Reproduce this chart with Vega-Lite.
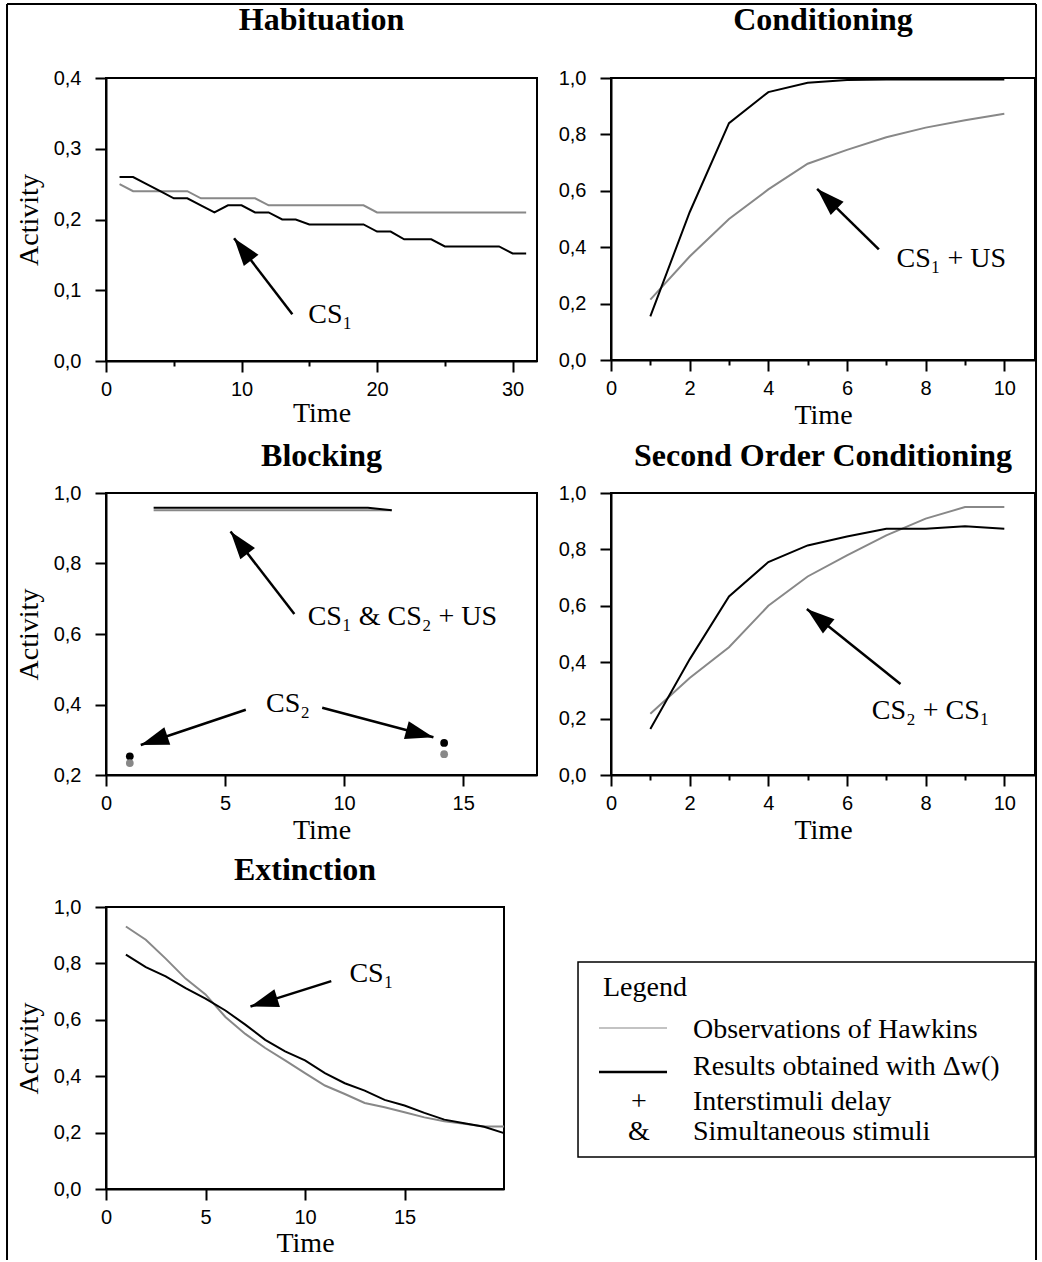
{
  "$schema": "https://vega.github.io/schema/vega-lite/v6.json",
  "padding": {"left": 6, "top": 3, "right": 0, "bottom": 0},
  "background": "white",
  "columns": 2,
  "bounds": "flush",
  "align": "each",
  "spacing": {"row": 132, "column": 74},
  "config": {
    "view": {"stroke": "black", "strokeWidth": 2},
    "axis": {"domainColor": "black", "domainWidth": 2, "tickColor": "black", "tickWidth": 2, "labelFont": "Liberation Sans", "labelFontSize": 20, "labelColor": "black", "titleFont": "Liberation Serif", "titleFontSize": 28, "titleFontWeight": "normal", "titleColor": "black", "grid": false, "labelFlush": false, "labelOverlap": false, "labelBound": false},
    "title": {"font": "Liberation Serif", "fontSize": 32, "fontWeight": "bold", "color": "black", "anchor": "middle", "frame": "group", "baseline": "alphabetic", "offset": 10},
    "text": {"font": "Liberation Serif", "fontSize": 28, "color": "black"}
  },
  "datasets": {
    "one": [{}],
    "series": [
      {"panel":"Habituation","source":"Hawkins","time":1,"activity":0.25},
      {"panel":"Habituation","source":"Hawkins","time":2,"activity":0.24},
      {"panel":"Habituation","source":"Hawkins","time":3,"activity":0.24},
      {"panel":"Habituation","source":"Hawkins","time":4,"activity":0.24},
      {"panel":"Habituation","source":"Hawkins","time":5,"activity":0.24},
      {"panel":"Habituation","source":"Hawkins","time":6,"activity":0.24},
      {"panel":"Habituation","source":"Hawkins","time":7,"activity":0.23},
      {"panel":"Habituation","source":"Hawkins","time":8,"activity":0.23},
      {"panel":"Habituation","source":"Hawkins","time":9,"activity":0.23},
      {"panel":"Habituation","source":"Hawkins","time":10,"activity":0.23},
      {"panel":"Habituation","source":"Hawkins","time":11,"activity":0.23},
      {"panel":"Habituation","source":"Hawkins","time":12,"activity":0.22},
      {"panel":"Habituation","source":"Hawkins","time":13,"activity":0.22},
      {"panel":"Habituation","source":"Hawkins","time":14,"activity":0.22},
      {"panel":"Habituation","source":"Hawkins","time":15,"activity":0.22},
      {"panel":"Habituation","source":"Hawkins","time":16,"activity":0.22},
      {"panel":"Habituation","source":"Hawkins","time":17,"activity":0.22},
      {"panel":"Habituation","source":"Hawkins","time":18,"activity":0.22},
      {"panel":"Habituation","source":"Hawkins","time":19,"activity":0.22},
      {"panel":"Habituation","source":"Hawkins","time":20,"activity":0.21},
      {"panel":"Habituation","source":"Hawkins","time":21,"activity":0.21},
      {"panel":"Habituation","source":"Hawkins","time":22,"activity":0.21},
      {"panel":"Habituation","source":"Hawkins","time":23,"activity":0.21},
      {"panel":"Habituation","source":"Hawkins","time":24,"activity":0.21},
      {"panel":"Habituation","source":"Hawkins","time":25,"activity":0.21},
      {"panel":"Habituation","source":"Hawkins","time":26,"activity":0.21},
      {"panel":"Habituation","source":"Hawkins","time":27,"activity":0.21},
      {"panel":"Habituation","source":"Hawkins","time":28,"activity":0.21},
      {"panel":"Habituation","source":"Hawkins","time":29,"activity":0.21},
      {"panel":"Habituation","source":"Hawkins","time":30,"activity":0.21},
      {"panel":"Habituation","source":"Hawkins","time":31,"activity":0.21},
      {"panel":"Habituation","source":"Model","time":1,"activity":0.26},
      {"panel":"Habituation","source":"Model","time":2,"activity":0.26},
      {"panel":"Habituation","source":"Model","time":3,"activity":0.25},
      {"panel":"Habituation","source":"Model","time":4,"activity":0.24},
      {"panel":"Habituation","source":"Model","time":5,"activity":0.23},
      {"panel":"Habituation","source":"Model","time":6,"activity":0.23},
      {"panel":"Habituation","source":"Model","time":7,"activity":0.22},
      {"panel":"Habituation","source":"Model","time":8,"activity":0.21},
      {"panel":"Habituation","source":"Model","time":9,"activity":0.22},
      {"panel":"Habituation","source":"Model","time":10,"activity":0.22},
      {"panel":"Habituation","source":"Model","time":11,"activity":0.21},
      {"panel":"Habituation","source":"Model","time":12,"activity":0.21},
      {"panel":"Habituation","source":"Model","time":13,"activity":0.2},
      {"panel":"Habituation","source":"Model","time":14,"activity":0.2},
      {"panel":"Habituation","source":"Model","time":15,"activity":0.193},
      {"panel":"Habituation","source":"Model","time":16,"activity":0.193},
      {"panel":"Habituation","source":"Model","time":17,"activity":0.193},
      {"panel":"Habituation","source":"Model","time":18,"activity":0.193},
      {"panel":"Habituation","source":"Model","time":19,"activity":0.193},
      {"panel":"Habituation","source":"Model","time":20,"activity":0.183},
      {"panel":"Habituation","source":"Model","time":21,"activity":0.183},
      {"panel":"Habituation","source":"Model","time":22,"activity":0.172},
      {"panel":"Habituation","source":"Model","time":23,"activity":0.172},
      {"panel":"Habituation","source":"Model","time":24,"activity":0.172},
      {"panel":"Habituation","source":"Model","time":25,"activity":0.162},
      {"panel":"Habituation","source":"Model","time":26,"activity":0.162},
      {"panel":"Habituation","source":"Model","time":27,"activity":0.162},
      {"panel":"Habituation","source":"Model","time":28,"activity":0.162},
      {"panel":"Habituation","source":"Model","time":29,"activity":0.162},
      {"panel":"Habituation","source":"Model","time":30,"activity":0.152},
      {"panel":"Habituation","source":"Model","time":31,"activity":0.152},
      {"panel":"Conditioning","source":"Hawkins","time":1,"activity":0.214},
      {"panel":"Conditioning","source":"Hawkins","time":2,"activity":0.367},
      {"panel":"Conditioning","source":"Hawkins","time":3,"activity":0.5},
      {"panel":"Conditioning","source":"Hawkins","time":4,"activity":0.605},
      {"panel":"Conditioning","source":"Hawkins","time":5,"activity":0.696},
      {"panel":"Conditioning","source":"Hawkins","time":6,"activity":0.745},
      {"panel":"Conditioning","source":"Hawkins","time":7,"activity":0.79},
      {"panel":"Conditioning","source":"Hawkins","time":8,"activity":0.824},
      {"panel":"Conditioning","source":"Hawkins","time":9,"activity":0.85},
      {"panel":"Conditioning","source":"Hawkins","time":10,"activity":0.873},
      {"panel":"Conditioning","source":"Model","time":1,"activity":0.155},
      {"panel":"Conditioning","source":"Model","time":2,"activity":0.524},
      {"panel":"Conditioning","source":"Model","time":3,"activity":0.84},
      {"panel":"Conditioning","source":"Model","time":4,"activity":0.95},
      {"panel":"Conditioning","source":"Model","time":5,"activity":0.983},
      {"panel":"Conditioning","source":"Model","time":6,"activity":0.993},
      {"panel":"Conditioning","source":"Model","time":7,"activity":0.995},
      {"panel":"Conditioning","source":"Model","time":8,"activity":0.995},
      {"panel":"Conditioning","source":"Model","time":9,"activity":0.995},
      {"panel":"Conditioning","source":"Model","time":10,"activity":0.995},
      {"panel":"Blocking","source":"Hawkins","time":2,"activity":0.951},
      {"panel":"Blocking","source":"Hawkins","time":3,"activity":0.951},
      {"panel":"Blocking","source":"Hawkins","time":4,"activity":0.951},
      {"panel":"Blocking","source":"Hawkins","time":5,"activity":0.951},
      {"panel":"Blocking","source":"Hawkins","time":6,"activity":0.951},
      {"panel":"Blocking","source":"Hawkins","time":7,"activity":0.951},
      {"panel":"Blocking","source":"Hawkins","time":8,"activity":0.951},
      {"panel":"Blocking","source":"Hawkins","time":9,"activity":0.951},
      {"panel":"Blocking","source":"Hawkins","time":10,"activity":0.951},
      {"panel":"Blocking","source":"Hawkins","time":11,"activity":0.951},
      {"panel":"Blocking","source":"Hawkins","time":12,"activity":0.951},
      {"panel":"Blocking","source":"Model","time":2,"activity":0.958},
      {"panel":"Blocking","source":"Model","time":3,"activity":0.958},
      {"panel":"Blocking","source":"Model","time":4,"activity":0.958},
      {"panel":"Blocking","source":"Model","time":5,"activity":0.958},
      {"panel":"Blocking","source":"Model","time":6,"activity":0.958},
      {"panel":"Blocking","source":"Model","time":7,"activity":0.958},
      {"panel":"Blocking","source":"Model","time":8,"activity":0.958},
      {"panel":"Blocking","source":"Model","time":9,"activity":0.958},
      {"panel":"Blocking","source":"Model","time":10,"activity":0.958},
      {"panel":"Blocking","source":"Model","time":11,"activity":0.958},
      {"panel":"Blocking","source":"Model","time":12,"activity":0.951},
      {"panel":"Second Order Conditioning","source":"Hawkins","time":1,"activity":0.217},
      {"panel":"Second Order Conditioning","source":"Hawkins","time":2,"activity":0.344},
      {"panel":"Second Order Conditioning","source":"Hawkins","time":3,"activity":0.453},
      {"panel":"Second Order Conditioning","source":"Hawkins","time":4,"activity":0.6},
      {"panel":"Second Order Conditioning","source":"Hawkins","time":5,"activity":0.704},
      {"panel":"Second Order Conditioning","source":"Hawkins","time":6,"activity":0.779},
      {"panel":"Second Order Conditioning","source":"Hawkins","time":7,"activity":0.85},
      {"panel":"Second Order Conditioning","source":"Hawkins","time":8,"activity":0.909},
      {"panel":"Second Order Conditioning","source":"Hawkins","time":9,"activity":0.95},
      {"panel":"Second Order Conditioning","source":"Hawkins","time":10,"activity":0.95},
      {"panel":"Second Order Conditioning","source":"Model","time":1,"activity":0.163},
      {"panel":"Second Order Conditioning","source":"Model","time":2,"activity":0.41},
      {"panel":"Second Order Conditioning","source":"Model","time":3,"activity":0.633},
      {"panel":"Second Order Conditioning","source":"Model","time":4,"activity":0.755},
      {"panel":"Second Order Conditioning","source":"Model","time":5,"activity":0.814},
      {"panel":"Second Order Conditioning","source":"Model","time":6,"activity":0.846},
      {"panel":"Second Order Conditioning","source":"Model","time":7,"activity":0.873},
      {"panel":"Second Order Conditioning","source":"Model","time":8,"activity":0.873},
      {"panel":"Second Order Conditioning","source":"Model","time":9,"activity":0.882},
      {"panel":"Second Order Conditioning","source":"Model","time":10,"activity":0.873},
      {"panel":"Extinction","source":"Hawkins","time":1,"activity":0.931},
      {"panel":"Extinction","source":"Hawkins","time":2,"activity":0.884},
      {"panel":"Extinction","source":"Hawkins","time":3,"activity":0.817},
      {"panel":"Extinction","source":"Hawkins","time":4,"activity":0.746},
      {"panel":"Extinction","source":"Hawkins","time":5,"activity":0.69},
      {"panel":"Extinction","source":"Hawkins","time":6,"activity":0.61},
      {"panel":"Extinction","source":"Hawkins","time":7,"activity":0.55},
      {"panel":"Extinction","source":"Hawkins","time":8,"activity":0.5},
      {"panel":"Extinction","source":"Hawkins","time":9,"activity":0.456},
      {"panel":"Extinction","source":"Hawkins","time":10,"activity":0.411},
      {"panel":"Extinction","source":"Hawkins","time":11,"activity":0.367},
      {"panel":"Extinction","source":"Hawkins","time":12,"activity":0.337},
      {"panel":"Extinction","source":"Hawkins","time":13,"activity":0.305},
      {"panel":"Extinction","source":"Hawkins","time":14,"activity":0.29},
      {"panel":"Extinction","source":"Hawkins","time":15,"activity":0.272},
      {"panel":"Extinction","source":"Hawkins","time":16,"activity":0.254},
      {"panel":"Extinction","source":"Hawkins","time":17,"activity":0.24},
      {"panel":"Extinction","source":"Hawkins","time":18,"activity":0.231},
      {"panel":"Extinction","source":"Hawkins","time":19,"activity":0.222},
      {"panel":"Extinction","source":"Hawkins","time":20,"activity":0.222},
      {"panel":"Extinction","source":"Model","time":1,"activity":0.831},
      {"panel":"Extinction","source":"Model","time":2,"activity":0.787},
      {"panel":"Extinction","source":"Model","time":3,"activity":0.754},
      {"panel":"Extinction","source":"Model","time":4,"activity":0.712},
      {"panel":"Extinction","source":"Model","time":5,"activity":0.675},
      {"panel":"Extinction","source":"Model","time":6,"activity":0.633},
      {"panel":"Extinction","source":"Model","time":7,"activity":0.583},
      {"panel":"Extinction","source":"Model","time":8,"activity":0.529},
      {"panel":"Extinction","source":"Model","time":9,"activity":0.488},
      {"panel":"Extinction","source":"Model","time":10,"activity":0.456},
      {"panel":"Extinction","source":"Model","time":11,"activity":0.411},
      {"panel":"Extinction","source":"Model","time":12,"activity":0.375},
      {"panel":"Extinction","source":"Model","time":13,"activity":0.349},
      {"panel":"Extinction","source":"Model","time":14,"activity":0.316},
      {"panel":"Extinction","source":"Model","time":15,"activity":0.296},
      {"panel":"Extinction","source":"Model","time":16,"activity":0.27},
      {"panel":"Extinction","source":"Model","time":17,"activity":0.246},
      {"panel":"Extinction","source":"Model","time":18,"activity":0.233},
      {"panel":"Extinction","source":"Model","time":19,"activity":0.221},
      {"panel":"Extinction","source":"Model","time":20,"activity":0.198}
    ],
    "blockingPoints": [
      {"source":"Model","time":1,"activity":0.253},
      {"source":"Model","time":14.2,"activity":0.291},
      {"source":"Hawkins","time":1,"activity":0.234},
      {"source":"Hawkins","time":14.2,"activity":0.259}
    ]
  },
  "concat": [
    {
      "width": 431, "height": 283,
      "title": {"text": "Habituation", "offset": 31},
      "layer": [
        {
          "data": {"name": "series"},
          "transform": [{"filter": "datum.panel === 'Habituation'"}],
          "mark": {"type": "line", "strokeWidth": 2},
          "encoding": {
            "x": {"field": "time", "type": "quantitative", "scale": {"domain": [0, 31.8], "nice": false, "zero": false},
              "axis": {"values": [0,5,10,15,20,25,30], "labelExpr": "datum.value % 10 === 0 ? format(datum.value, 'd') : ''", "tickSize": {"condition": {"test": "datum.value % 10 === 0", "value": 11}, "value": 5}, "labelPadding": 7, "title": "Time", "titleY": 60, "titleBaseline": "alphabetic"}},
            "y": {"field": "activity", "type": "quantitative", "scale": {"domain": [0, 0.4], "nice": false, "zero": false},
              "axis": {"values": [0,0.05,0.1,0.15,0.2,0.25,0.3,0.35,0.4], "labelExpr": "round(datum.value*100) % 10 === 0 ? replace(format(datum.value, '.1f'), '.', ',') : ''", "tickSize": {"condition": {"test": "round(datum.value*100) % 10 === 0", "value": 11}, "value": 6}, "labelPadding": 14, "title": "Activity", "titleX": -69, "titleBaseline": "alphabetic"}},
            "color": {"field": "source", "type": "nominal", "scale": {"domain": ["Hawkins", "Model"], "range": ["#888888", "#000000"]}, "legend": null}
          }
        },
        {
          "data": {"name": "one"},
          "mark": {"type": "rule", "color": "black", "strokeWidth": 2.5},
          "encoding": {"x": {"datum": 13.75, "type": "quantitative"}, "y": {"datum": 0.066, "type": "quantitative"}, "x2": {"datum": 9.45}, "y2": {"datum": 0.1736}}
        },
        {
          "data": {"name": "one"},
          "mark": {"type": "point", "shape": "M0,0L0.33,1L-0.33,1Z", "size": 3136, "filled": true, "color": "black", "opacity": 1, "strokeWidth": 0, "angle": 322.4},
          "encoding": {"x": {"datum": 9.45, "type": "quantitative"}, "y": {"datum": 0.1736, "type": "quantitative"}}
        },
        {
          "data": {"name": "one"},
          "mark": {"type": "text", "align": "left", "baseline": "alphabetic"},
          "encoding": {"x": {"datum": 14.92, "type": "quantitative"}, "y": {"datum": 0.0542, "type": "quantitative"}, "text": {"value": "CS₁"}}
        }
      ]
    },
    {
      "width": 424, "height": 282,
      "title": {"text": "Conditioning", "offset": 31},
      "layer": [
        {
          "data": {"name": "series"},
          "transform": [{"filter": "datum.panel === 'Conditioning'"}],
          "mark": {"type": "line", "strokeWidth": 2},
          "encoding": {
            "x": {"field": "time", "type": "quantitative", "scale": {"domain": [0, 10.78], "nice": false, "zero": false},
              "axis": {"values": [0,1,2,3,4,5,6,7,8,9,10], "labelExpr": "datum.value % 2 === 0 ? format(datum.value, 'd') : ''", "tickSize": {"condition": {"test": "datum.value % 2 === 0", "value": 11}, "value": 5}, "labelPadding": 7, "title": "Time", "titleY": 63, "titleBaseline": "alphabetic"}},
            "y": {"field": "activity", "type": "quantitative", "scale": {"domain": [0, 1], "nice": false, "zero": false},
              "axis": {"values": [0,0.1,0.2,0.3,0.4,0.5,0.6,0.7,0.8,0.9,1], "labelExpr": "round(datum.value*10) % 2 === 0 ? replace(format(datum.value, '.1f'), '.', ',') : ''", "tickSize": {"condition": {"test": "round(datum.value*10) % 2 === 0", "value": 11}, "value": 6}, "labelPadding": 14, "title": null}},
            "color": {"field": "source", "type": "nominal", "scale": {"domain": ["Hawkins", "Model"], "range": ["#888888", "#000000"]}, "legend": null}
          }
        },
        {
          "data": {"name": "one"},
          "mark": {"type": "rule", "color": "black", "strokeWidth": 2.5},
          "encoding": {"x": {"datum": 6.81, "type": "quantitative"}, "y": {"datum": 0.392, "type": "quantitative"}, "x2": {"datum": 5.24}, "y2": {"datum": 0.607}}
        },
        {
          "data": {"name": "one"},
          "mark": {"type": "point", "shape": "M0,0L0.33,1L-0.33,1Z", "size": 3136, "filled": true, "color": "black", "opacity": 1, "strokeWidth": 0, "angle": 314.3},
          "encoding": {"x": {"datum": 5.24, "type": "quantitative"}, "y": {"datum": 0.607, "type": "quantitative"}}
        },
        {
          "data": {"name": "one"},
          "mark": {"type": "text", "align": "left", "baseline": "alphabetic"},
          "encoding": {"x": {"datum": 7.26, "type": "quantitative"}, "y": {"datum": 0.331, "type": "quantitative"}, "text": {"value": "CS₁ + US"}}
        }
      ]
    },
    {
      "width": 431, "height": 282,
      "title": "Blocking",
      "layer": [
        {
          "data": {"name": "series"},
          "transform": [{"filter": "datum.panel === 'Blocking'"}],
          "mark": {"type": "line", "strokeWidth": 2},
          "encoding": {
            "x": {"field": "time", "type": "quantitative", "scale": {"domain": [0, 18.1], "nice": false, "zero": false},
              "axis": {"values": [0,5,10,15], "labelExpr": "format(datum.value, 'd')", "tickSize": 11, "labelPadding": 7, "title": "Time", "titleY": 63, "titleBaseline": "alphabetic"}},
            "y": {"field": "activity", "type": "quantitative", "scale": {"domain": [0.2, 1], "nice": false, "zero": false},
              "axis": {"values": [0.2,0.3,0.4,0.5,0.6,0.7,0.8,0.9,1], "labelExpr": "round(datum.value*10) % 2 === 0 ? replace(format(datum.value, '.1f'), '.', ',') : ''", "tickSize": {"condition": {"test": "round(datum.value*10) % 2 === 0", "value": 11}, "value": 6}, "labelPadding": 14, "title": "Activity", "titleX": -69, "titleBaseline": "alphabetic"}},
            "color": {"field": "source", "type": "nominal", "scale": {"domain": ["Hawkins", "Model"], "range": ["#888888", "#000000"]}, "legend": null}
          }
        },
        {
          "data": {"name": "blockingPoints"},
          "mark": {"type": "point", "filled": true, "size": 60, "opacity": 1, "strokeWidth": 0},
          "encoding": {
            "x": {"field": "time", "type": "quantitative"},
            "y": {"field": "activity", "type": "quantitative"},
            "color": {"field": "source", "type": "nominal", "scale": {"domain": ["Hawkins", "Model"], "range": ["#888888", "#000000"]}, "legend": null}
          }
        },
        {
          "data": {"name": "one"},
          "mark": {"type": "rule", "color": "black", "strokeWidth": 2.5},
          "encoding": {"x": {"datum": 7.91, "type": "quantitative"}, "y": {"datum": 0.657, "type": "quantitative"}, "x2": {"datum": 5.23}, "y2": {"datum": 0.891}}
        },
        {
          "data": {"name": "one"},
          "mark": {"type": "point", "shape": "M0,0L0.33,1L-0.33,1Z", "size": 3136, "filled": true, "color": "black", "opacity": 1, "strokeWidth": 0, "angle": 322.3},
          "encoding": {"x": {"datum": 5.23, "type": "quantitative"}, "y": {"datum": 0.891, "type": "quantitative"}}
        },
        {
          "data": {"name": "one"},
          "mark": {"type": "text", "align": "left", "baseline": "alphabetic"},
          "encoding": {"x": {"datum": 8.47, "type": "quantitative"}, "y": {"datum": 0.626, "type": "quantitative"}, "text": {"value": "CS₁ & CS₂ + US"}}
        },
        {
          "data": {"name": "one"},
          "mark": {"type": "text", "align": "left", "baseline": "alphabetic"},
          "encoding": {"x": {"datum": 6.72, "type": "quantitative"}, "y": {"datum": 0.378, "type": "quantitative"}, "text": {"value": "CS₂"}}
        },
        {
          "data": {"name": "one"},
          "mark": {"type": "rule", "color": "black", "strokeWidth": 2.5},
          "encoding": {"x": {"datum": 5.87, "type": "quantitative"}, "y": {"datum": 0.385, "type": "quantitative"}, "x2": {"datum": 1.46}, "y2": {"datum": 0.285}}
        },
        {
          "data": {"name": "one"},
          "mark": {"type": "point", "shape": "M0,0L0.33,1L-0.33,1Z", "size": 3136, "filled": true, "color": "black", "opacity": 1, "strokeWidth": 0, "angle": 251.4},
          "encoding": {"x": {"datum": 1.46, "type": "quantitative"}, "y": {"datum": 0.285, "type": "quantitative"}}
        },
        {
          "data": {"name": "one"},
          "mark": {"type": "rule", "color": "black", "strokeWidth": 2.5},
          "encoding": {"x": {"datum": 9.08, "type": "quantitative"}, "y": {"datum": 0.391, "type": "quantitative"}, "x2": {"datum": 13.75}, "y2": {"datum": 0.307}}
        },
        {
          "data": {"name": "one"},
          "mark": {"type": "point", "shape": "M0,0L0.33,1L-0.33,1Z", "size": 3136, "filled": true, "color": "black", "opacity": 1, "strokeWidth": 0, "angle": 104.9},
          "encoding": {"x": {"datum": 13.75, "type": "quantitative"}, "y": {"datum": 0.307, "type": "quantitative"}}
        }
      ]
    },
    {
      "width": 424, "height": 282,
      "title": "Second Order Conditioning",
      "layer": [
        {
          "data": {"name": "series"},
          "transform": [{"filter": "datum.panel === 'Second Order Conditioning'"}],
          "mark": {"type": "line", "strokeWidth": 2},
          "encoding": {
            "x": {"field": "time", "type": "quantitative", "scale": {"domain": [0, 10.78], "nice": false, "zero": false},
              "axis": {"values": [0,1,2,3,4,5,6,7,8,9,10], "labelExpr": "datum.value % 2 === 0 ? format(datum.value, 'd') : ''", "tickSize": {"condition": {"test": "datum.value % 2 === 0", "value": 11}, "value": 5}, "labelPadding": 7, "title": "Time", "titleY": 63, "titleBaseline": "alphabetic"}},
            "y": {"field": "activity", "type": "quantitative", "scale": {"domain": [0, 1], "nice": false, "zero": false},
              "axis": {"values": [0,0.1,0.2,0.3,0.4,0.5,0.6,0.7,0.8,0.9,1], "labelExpr": "round(datum.value*10) % 2 === 0 ? replace(format(datum.value, '.1f'), '.', ',') : ''", "tickSize": {"condition": {"test": "round(datum.value*10) % 2 === 0", "value": 11}, "value": 6}, "labelPadding": 14, "title": null}},
            "color": {"field": "source", "type": "nominal", "scale": {"domain": ["Hawkins", "Model"], "range": ["#888888", "#000000"]}, "legend": null}
          }
        },
        {
          "data": {"name": "one"},
          "mark": {"type": "rule", "color": "black", "strokeWidth": 2.5},
          "encoding": {"x": {"datum": 7.36, "type": "quantitative"}, "y": {"datum": 0.323, "type": "quantitative"}, "x2": {"datum": 4.98}, "y2": {"datum": 0.589}}
        },
        {
          "data": {"name": "one"},
          "mark": {"type": "point", "shape": "M0,0L0.33,1L-0.33,1Z", "size": 3136, "filled": true, "color": "black", "opacity": 1, "strokeWidth": 0, "angle": 308.7},
          "encoding": {"x": {"datum": 4.98, "type": "quantitative"}, "y": {"datum": 0.589, "type": "quantitative"}}
        },
        {
          "data": {"name": "one"},
          "mark": {"type": "text", "align": "left", "baseline": "alphabetic"},
          "encoding": {"x": {"datum": 6.63, "type": "quantitative"}, "y": {"datum": 0.199, "type": "quantitative"}, "text": {"value": "CS₂ + CS₁"}}
        }
      ]
    },
    {
      "width": 398, "height": 282,
      "title": "Extinction",
      "layer": [
        {
          "data": {"name": "series"},
          "transform": [{"filter": "datum.panel === 'Extinction'"}],
          "mark": {"type": "line", "strokeWidth": 2},
          "encoding": {
            "x": {"field": "time", "type": "quantitative", "scale": {"domain": [0, 20], "nice": false, "zero": false},
              "axis": {"values": [0,5,10,15], "labelExpr": "format(datum.value, 'd')", "tickSize": 11, "labelPadding": 7, "title": "Time", "titleY": 62, "titleBaseline": "alphabetic"}},
            "y": {"field": "activity", "type": "quantitative", "scale": {"domain": [0, 1], "nice": false, "zero": false},
              "axis": {"values": [0,0.1,0.2,0.3,0.4,0.5,0.6,0.7,0.8,0.9,1], "labelExpr": "round(datum.value*10) % 2 === 0 ? replace(format(datum.value, '.1f'), '.', ',') : ''", "tickSize": {"condition": {"test": "round(datum.value*10) % 2 === 0", "value": 11}, "value": 6}, "labelPadding": 14, "title": "Activity", "titleX": -69, "titleBaseline": "alphabetic"}},
            "color": {"field": "source", "type": "nominal", "scale": {"domain": ["Hawkins", "Model"], "range": ["#888888", "#000000"]}, "legend": null}
          }
        },
        {
          "data": {"name": "one"},
          "mark": {"type": "rule", "color": "black", "strokeWidth": 2.5},
          "encoding": {"x": {"datum": 11.32, "type": "quantitative"}, "y": {"datum": 0.737, "type": "quantitative"}, "x2": {"datum": 7.26}, "y2": {"datum": 0.647}}
        },
        {
          "data": {"name": "one"},
          "mark": {"type": "point", "shape": "M0,0L0.33,1L-0.33,1Z", "size": 3136, "filled": true, "color": "black", "opacity": 1, "strokeWidth": 0, "angle": 252.5},
          "encoding": {"x": {"datum": 7.26, "type": "quantitative"}, "y": {"datum": 0.647, "type": "quantitative"}}
        },
        {
          "data": {"name": "one"},
          "mark": {"type": "text", "align": "left", "baseline": "alphabetic"},
          "encoding": {"x": {"datum": 12.23, "type": "quantitative"}, "y": {"datum": 0.734, "type": "quantitative"}, "text": {"value": "CS₁"}}
        }
      ]
    },
    {
      "width": 424, "height": 282,
      "view": {"stroke": null},
      "data": {"name": "one"},
      "layer": [
        {
          "mark": {"type": "rule", "color": "black", "strokeWidth": 2},
          "encoding": {"x": {"datum": -1.4245, "type": "quantitative", "scale": {"domain": [0, 1], "nice": false, "zero": false}, "axis": null}, "y": {"datum": 4.2021, "type": "quantitative", "scale": {"domain": [0, 1], "nice": false, "zero": false}, "axis": null}, "y2": {"datum": -0.2518}}
        },
        {
          "mark": {"type": "rule", "color": "black", "strokeWidth": 2},
          "encoding": {"x": {"datum": -1.4245, "type": "quantitative"}, "x2": {"datum": 1.0024}, "y": {"datum": 4.2021, "type": "quantitative"}}
        },
        {
          "mark": {"type": "rule", "color": "black", "strokeWidth": 2},
          "encoding": {"x": {"datum": 1.0024, "type": "quantitative"}, "y": {"datum": 4.2021, "type": "quantitative"}, "y2": {"datum": -0.2518}}
        },
        {
          "mark": {"type": "rect", "fill": "white", "fillOpacity": 0, "stroke": "black", "strokeWidth": 1.5},
          "encoding": {"x": {"datum": -0.0778, "type": "quantitative"}, "x2": {"datum": 1.0}, "y": {"datum": 0.805, "type": "quantitative"}, "y2": {"datum": 0.1135}}
        },
        {
          "mark": {"type": "rule", "color": "#888888", "strokeWidth": 1.2},
          "encoding": {"x": {"datum": -0.0283, "type": "quantitative"}, "x2": {"datum": 0.1321}, "y": {"datum": 0.5709, "type": "quantitative"}}
        },
        {
          "mark": {"type": "rule", "color": "black", "strokeWidth": 2.5},
          "encoding": {"x": {"datum": -0.0283, "type": "quantitative"}, "x2": {"datum": 0.1321}, "y": {"datum": 0.4149, "type": "quantitative"}}
        },
        {
          "mark": {"type": "text", "align": "left", "baseline": "alphabetic"},
          "encoding": {"x": {"datum": -0.0189, "type": "quantitative"}, "y": {"datum": 0.6844, "type": "quantitative"}, "text": {"value": "Legend"}}
        },
        {
          "mark": {"type": "text", "align": "left", "baseline": "alphabetic"},
          "encoding": {"x": {"datum": 0.1934, "type": "quantitative"}, "y": {"datum": 0.5354, "type": "quantitative"}, "text": {"value": "Observations of Hawkins"}}
        },
        {
          "mark": {"type": "text", "align": "left", "baseline": "alphabetic"},
          "encoding": {"x": {"datum": 0.1934, "type": "quantitative"}, "y": {"datum": 0.405, "type": "quantitative"}, "text": {"value": "Results obtained with Δw()"}}
        },
        {
          "mark": {"type": "text", "align": "center", "baseline": "alphabetic"},
          "encoding": {"x": {"datum": 0.066, "type": "quantitative"}, "y": {"datum": 0.2801, "type": "quantitative"}, "text": {"value": "+"}}
        },
        {
          "mark": {"type": "text", "align": "left", "baseline": "alphabetic"},
          "encoding": {"x": {"datum": 0.1934, "type": "quantitative"}, "y": {"datum": 0.2801, "type": "quantitative"}, "text": {"value": "Interstimuli delay"}}
        },
        {
          "mark": {"type": "text", "align": "center", "baseline": "alphabetic"},
          "encoding": {"x": {"datum": 0.066, "type": "quantitative"}, "y": {"datum": 0.1738, "type": "quantitative"}, "text": {"value": "&"}}
        },
        {
          "mark": {"type": "text", "align": "left", "baseline": "alphabetic"},
          "encoding": {"x": {"datum": 0.1934, "type": "quantitative"}, "y": {"datum": 0.1738, "type": "quantitative"}, "text": {"value": "Simultaneous stimuli"}}
        }
      ]
    }
  ]
}
